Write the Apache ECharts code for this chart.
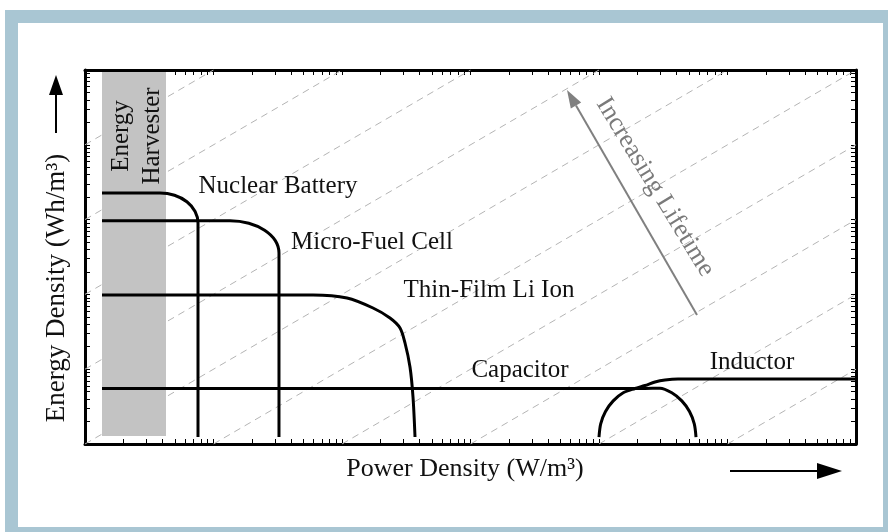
<!DOCTYPE html>
<html><head><meta charset="utf-8">
<script src="https://cdn.jsdelivr.net/npm/echarts@6/dist/echarts.min.js"></script>
<style>html,body{margin:0;padding:0;background:#fff}#c{width:888px;height:532px}</style>
</head><body><div id="c"></div>
<script>
// ---- axis ranges (log scales, no labels) ----
const xRange = [1, 1e6];
const yRange = [1, 1e5];
const xDecades = [1, 10, 100, 1000, 10000, 100000];
const yDecades = [1, 10, 100, 1000, 10000];
const minorSteps = [1, 2, 3, 4, 5, 6, 7, 8, 9];

// ---- series names ----
const curveNames = ['Nuclear Battery', 'Micro-Fuel Cell', 'Thin-Film Li Ion', 'Capacitor', 'Inductor'];

// ---- curve values [power density, energy density] ----
const nuclearBattery = [[1.356,2268],[3.834,2268],[4.972,2113],[6.209,1730],[7.192,1283],[7.575,900.6],[7.575,1.24]];
const microFuelCell = [[1.356,966.7],[13.44,966.7],[18.83,895.1],[24.98,721.8],[30.27,524.1],[32.33,357.7],[32.33,1.24]];
const thinFilmLiIon = [[1.356,98.2],[59.48,98.2],[109.4,89.5],[174.3,65.8],[236.3,48.4],[282.8,35.6],[309.3,22.4],[338.2,10.7],[356.9,4.25],[370,1.24]];
const capacitor = [[1.356,5.521],[22803,5.521],[29830,5.572],[36857,4.836],[44104,3.769],[50620,2.720],[55140,1.863],[56870,1.24]];
const inductor = [[10000,1.24],[10309,1.863],[11235,2.720],[12899,3.769],[15428,4.836],[19065,5.521],[22803,6.055],[27285,6.744],[32630,7.172],[41190,7.396],[1e6,7.396]];

// ---- energy harvester band [x0, y0, x1, y1] ----
const harvesterBand = [[1.356, 1.279, 4.27, 94000]];

// ---- constant-lifetime guide lines (E = P * t) ----
const lifetimeLines = [
  [[1,1e4],[10,1e5]],
  [[1,1e3],[100,1e5]],
  [[1,100],[1000,1e5]],
  [[1,10],[1e4,1e5]],
  [[1,1],[1e5,1e5]],
  [[10,1],[1e6,1e5]],
  [[100,1],[1e6,1e4]],
  [[1000,1],[1e6,1000]],
  [[1e4,1],[1e6,100]],
  [[1e5,1],[1e6,10]]
];

const curves = [nuclearBattery, microFuelCell, thinFilmLiIon, capacitor, inductor];

function logTicks(decades, maxVal) {
  const t = [];
  decades.forEach(d => minorSteps.forEach(m => t.push(d * m)));
  t.push(maxVal);
  return t;
}
const xTicks = logTicks(xDecades, xRange[1]);
const yTicks = logTicks(yDecades, yRange[1]);

const FONT = '"Liberation Serif", "Times New Roman", serif';

function axisBase(ticks, range, pos) {
  return {
    type: 'log', logBase: 10, min: range[0], max: range[1], position: pos,
    axisLine: { show: true, lineStyle: { color: '#000', width: 3 } },
    axisTick: { show: true, inside: true, length: 5, customValues: ticks, lineStyle: { color: '#000', width: 1 } },
    axisLabel: { show: false },
    splitLine: { show: false },
    minorTick: { show: false }
  };
}

const series = [];
lifetimeLines.forEach(seg => {
  series.push({
    type: 'line', data: seg, symbol: 'none', silent: true, z: 1,
    lineStyle: { color: '#b4b4b4', width: 1, type: [7, 5] }
  });
});
series.push({
  type: 'custom', z: 2, silent: true,
  data: harvesterBand,
  encode: { x: [0, 2], y: [1, 3] },
  renderItem: function (params, api) {
    const p0 = api.coord([api.value(0), api.value(1)]);
    const p1 = api.coord([api.value(2), api.value(3)]);
    return { type: 'rect', shape: { x: p0[0], y: p1[1], width: p1[0] - p0[0], height: p0[1] - p1[1] }, style: { fill: '#c3c3c3' } };
  }
});
curves.forEach((d, i) => {
  series.push({
    name: curveNames[i], type: 'line', data: d, symbol: 'none', smooth: 0.3, z: 3,
    lineStyle: { color: '#000', width: 3 }
  });
});

function txt(text, x, y, size, opts) {
  opts = opts || {};
  return {
    type: 'text', x: x, y: y, rotation: opts.rotation || 0, z: 20,
    style: {
      text: text, font: size + 'px ' + FONT, fill: opts.color || '#111',
      align: 'center', verticalAlign: 'middle', lineHeight: opts.lineHeight
    }
  };
}

const graphic = [
  { type: 'rect', z: -100, shape: { x: 5, y: 10, width: 883, height: 522 }, style: { fill: '#a9c6d3' } },
  { type: 'rect', z: -99, shape: { x: 18, y: 23, width: 865, height: 504 }, style: { fill: '#ffffff' } },
  // curve labels
  txt(curveNames[0], 278, 186, 25),
  txt(curveNames[1], 372, 242, 25),
  txt(curveNames[2], 489, 290, 25),
  txt(curveNames[3], 520, 370, 25),
  txt(curveNames[4], 752, 362, 25),
  txt('Energy\nHarvester', 137, 136, 25, { rotation: Math.PI / 2, lineHeight: 31 }),
  // axis titles
  txt('Power Density (W/m³)', 465, 469, 26),
  txt('Energy Density (Wh/m³)', 57, 288, 27, { rotation: Math.PI / 2 }),
  // axis arrows
  { type: 'line', z: 20, shape: { x1: 730, y1: 471, x2: 820, y2: 471 }, style: { stroke: '#000', lineWidth: 2 } },
  { type: 'polygon', z: 20, shape: { points: [[842, 471], [817, 463], [817, 479]] }, style: { fill: '#000' } },
  { type: 'line', z: 20, shape: { x1: 56, y1: 133, x2: 56, y2: 92 }, style: { stroke: '#000', lineWidth: 2 } },
  { type: 'polygon', z: 20, shape: { points: [[56, 75], [49, 95], [63, 95]] }, style: { fill: '#000' } },
  // increasing lifetime arrow
  { type: 'line', z: 20, shape: { x1: 697, y1: 315, x2: 576, y2: 105.6 }, style: { stroke: '#808080', lineWidth: 2 } },
  { type: 'polygon', z: 20, shape: { points: [[567, 90], [581.2, 102.6], [570.8, 108.6]] }, style: { fill: '#808080' } },
  txt('Increasing Lifetime', 655, 187, 26, { rotation: -58.6 * Math.PI / 180, color: '#7a7a7a' })
];

const chart = echarts.init(document.getElementById('c'), null, { renderer: 'canvas' });
chart.setOption({
  animation: false,
  backgroundColor: '#ffffff',
  grid: { left: 85, right: 32, top: 70, bottom: 88, containLabel: false },
  xAxis: [axisBase(xTicks, xRange, 'bottom'), axisBase(xTicks, xRange, 'top')],
  yAxis: [axisBase(yTicks, yRange, 'left'), axisBase(yTicks, yRange, 'right')],
  series: series,
  graphic: graphic
});
</script></body></html>
